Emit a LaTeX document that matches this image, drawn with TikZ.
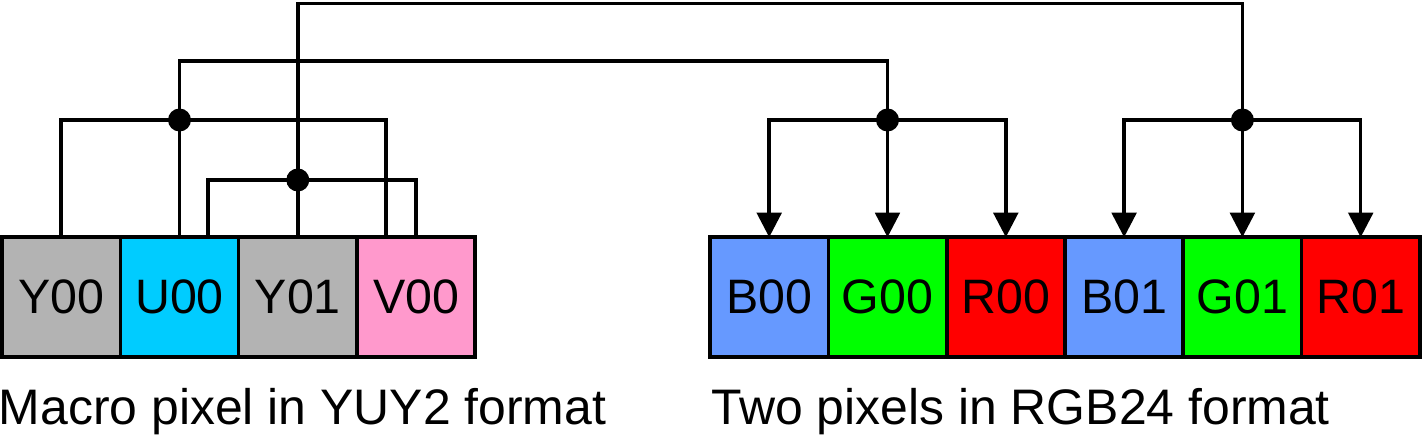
\documentclass[tikz,border=0pt]{standalone}
\usepackage{fontspec}
\setmainfont{Liberation Sans}
\usetikzlibrary{positioning,arrows.meta}
\definecolor{ygray}{HTML}{B3B3B3}
\definecolor{ucyan}{HTML}{00CCFF}
\definecolor{vpink}{HTML}{FF99CC}
\definecolor{bblue}{HTML}{6699FF}
\definecolor{ggreen}{HTML}{00FF00}
\definecolor{rred}{HTML}{FF0000}
\tikzset{
  pix/.style={draw, line width=2.1pt, minimum width=2.366cm, minimum height=2.39cm,
              inner sep=0pt, outer sep=0pt, font=\fontsize{27.5}{32}\selectfont},
  wire/.style={line width=2pt},
  fan/.style={wire, -{Triangle[width=4.9mm,length=4.9mm]}},
  caption/.style={anchor=base west, inner sep=0pt, font=\fontsize{28.4}{33}\selectfont}
}
\begin{document}
\begin{tikzpicture}[x=2mm, y=2mm]
    \useasboundingbox (0,0) rectangle (142.2,-43.8);
    % YUY2 macro pixel
    \node[pix, fill=ygray] (y00) at (6.12,-29.7) {Y00};
    \node[pix, fill=ucyan, right=0pt of y00] (u00) {U00};
    \node[pix, fill=ygray, right=0pt of u00] (y01) {Y01};
    \node[pix, fill=vpink, right=0pt of y01] (v00) {V00};
    % two RGB24 pixels
    \node[pix, fill=bblue] (b00) at (76.92,-29.7) {B00};
    \node[pix, fill=ggreen, right=0pt of b00] (g00) {G00};
    \node[pix, fill=rred, right=0pt of g00] (r00) {R00};
    \node[pix, fill=bblue, right=0pt of r00] (b01) {B01};
    \node[pix, fill=ggreen, right=0pt of b01] (g01) {G01};
    \node[pix, fill=rred, right=0pt of g01] (r01) {R01};
    \node[caption] (yuvcap) at (-0.15,-42.5) {Macro pixel in YUY2 format};
    \node[caption] (rgbcap) at (71.1,-42.5) {Two pixels in RGB24 format};
    % levels and junctions
    \coordinate (top) at (0,-0.35);
    \coordinate (mid) at (0,-6.1);
    \coordinate (lvj) at (0,-12);
    \coordinate (lvi) at (0,-18);
    \coordinate (j0) at (u00.north |- lvj);
    \coordinate (j1) at (y01.north |- lvi);
    \coordinate (k0) at (g00.north |- lvj);
    \coordinate (k1) at (g01.north |- lvj);
    \draw[wire] (y00.north) |- (j0) -| ([xshift=-6mm]v00.north);
    \draw[wire] (u00.north) -- (j0) -- (j0 |- mid) -| (k0);
    \draw[wire] ([xshift=5.7mm]u00.north) |- (j1) -| (v00.north);
    \draw[wire] (y01.north) -- (j1) -- (j1 |- top) -| (k1);
    \draw[fan] (k0) -| (b00.north);
    \draw[fan] (k0) -- (g00.north);
    \draw[fan] (k0) -| (r00.north);
    \draw[fan] (k1) -| (b01.north);
    \draw[fan] (k1) -- (g01.north);
    \draw[fan] (k1) -| (r01.north);
    \foreach \j in {j0,j1,k0,k1}
      \fill (\j) circle (1.15);
\end{tikzpicture}
\end{document}
